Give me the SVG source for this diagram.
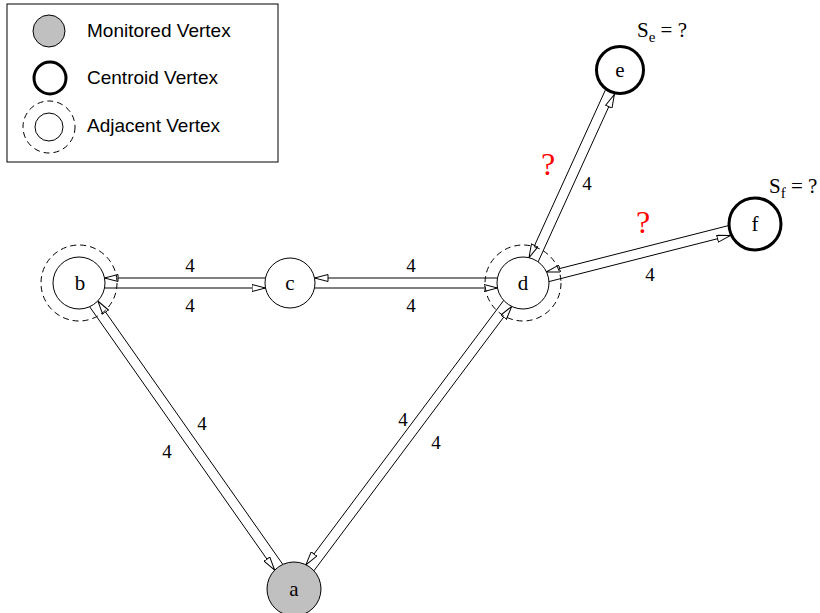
<svg xmlns="http://www.w3.org/2000/svg" width="820" height="613" viewBox="0 0 820 613">
<style>
  .node { fill: #ffffff; stroke: #000000; stroke-width: 1; }
  .mon { fill: #c0c0c0; stroke: #000000; stroke-width: 1; }
  .cent { fill: #ffffff; stroke: #000000; stroke-width: 3; }
  .adj { fill: none; stroke: #000000; stroke-width: 1; stroke-dasharray: 6 4; }
  .lbl { font-family: "Liberation Serif", "Times New Roman", serif; font-size: 21px; fill: #000000; text-anchor: middle; }
  .w { font-family: "Liberation Serif", "Times New Roman", serif; font-size: 19px; fill: #000000; text-anchor: middle; }
  .q { font-family: "Liberation Serif", "Times New Roman", serif; font-size: 32px; fill: #ff0000; text-anchor: middle; }
  .s { font-family: "Liberation Serif", "Times New Roman", serif; font-size: 21px; fill: #000000; }
  .leg { font-family: "Liberation Sans", Arial, sans-serif; font-size: 19px; fill: #000000; }
  .edge { fill: none; stroke: #000000; stroke-width: 1; marker-end: url(#arr); }
</style>
<defs>
  <marker id="arr" viewBox="0 0 14 8" refX="14" refY="4" markerWidth="14" markerHeight="8" markerUnits="userSpaceOnUse" orient="auto">
    <path d="M0.5,0.5 L14,4 L0.5,7.5 Z" fill="#ffffff" stroke="#000000" stroke-width="1"/>
  </marker>
</defs>
<rect width="820" height="613" fill="#ffffff"/>

<g id="legend">
  <rect x="7" y="4" width="271" height="158" fill="#ffffff" stroke="#000000" stroke-width="1"/>
  <circle class="mon" cx="49" cy="31" r="16"/>
  <text class="leg" x="87" y="37">Monitored Vertex</text>
  <circle class="cent" cx="50" cy="78" r="16"/>
  <text class="leg" x="87" y="84">Centroid Vertex</text>
  <circle class="adj" cx="49" cy="127" r="26"/>
  <circle class="node" cx="49" cy="127" r="14"/>
  <text class="leg" x="87" y="132">Adjacent Vertex</text>
</g>

<g id="connectors">
  <path class="edge" d="M265.5,278 L104.5,278"/>
  <path class="edge" d="M104.5,288 L265.5,288"/>
  <path class="edge" d="M497.5,278 L314.5,278"/>
  <path class="edge" d="M314.5,288 L497.5,288"/>
  <path class="edge" d="M89.6,306.7 L274.7,570.2"/>
  <path class="edge" d="M282.9,564.5 L97.8,301"/>
  <path class="edge" d="M313.9,570.8 L511.7,306.4"/>
  <path class="edge" d="M503.7,300.4 L305.9,564.8"/>
  <path class="edge" d="M538.1,261.9 L614.4,94.4"/>
  <path class="edge" d="M605.3,90.2 L529,257.7"/>
  <path class="edge" d="M548.9,281.6 L730.6,235.4"/>
  <path class="edge" d="M728.1,225.7 L546.5,271.9"/>
  <text class="w" x="190" y="272">4</text>
  <text class="w" x="190" y="312">4</text>
  <text class="w" x="411" y="272">4</text>
  <text class="w" x="411" y="312">4</text>
  <text class="w" x="202" y="430">4</text>
  <text class="w" x="167" y="458">4</text>
  <text class="w" x="403" y="426">4</text>
  <text class="w" x="436" y="449">4</text>
  <text class="w" x="587" y="190">4</text>
  <text class="w" x="650" y="281">4</text>
  <text class="q" x="548" y="175">?</text>
  <text class="q" x="643" y="233">?</text>
</g>

<g id="node-a">
  <circle class="mon" cx="294" cy="589" r="27"/>
  <text class="lbl" x="294" y="596">a</text>
</g>
<g id="node-b">
  <circle class="adj" cx="79" cy="283" r="38"/>
  <circle class="node" cx="79" cy="283" r="26"/>
  <text class="lbl" x="80" y="290">b</text>
</g>
<g id="node-c">
  <circle class="node" cx="290" cy="283" r="25"/>
  <text class="lbl" x="290" y="290">c</text>
</g>
<g id="node-d">
  <circle class="adj" cx="523" cy="283" r="38"/>
  <circle class="node" cx="523" cy="283" r="26"/>
  <text class="lbl" x="523" y="290">d</text>
</g>
<g id="node-e">
  <circle class="cent" cx="620" cy="70" r="23.5"/>
  <text class="lbl" x="620" y="77">e</text>
  <text class="s" x="637" y="37">S<tspan font-size="15" dy="5">e</tspan><tspan dy="-5"> = ?</tspan></text>
</g>
<g id="node-f">
  <circle class="cent" cx="755" cy="224" r="26"/>
  <text class="lbl" x="755" y="231">f</text>
  <text class="s" x="769" y="193">S<tspan font-size="15" dy="5">f</tspan><tspan dy="-5"> = ?</tspan></text>
</g>
</svg>
